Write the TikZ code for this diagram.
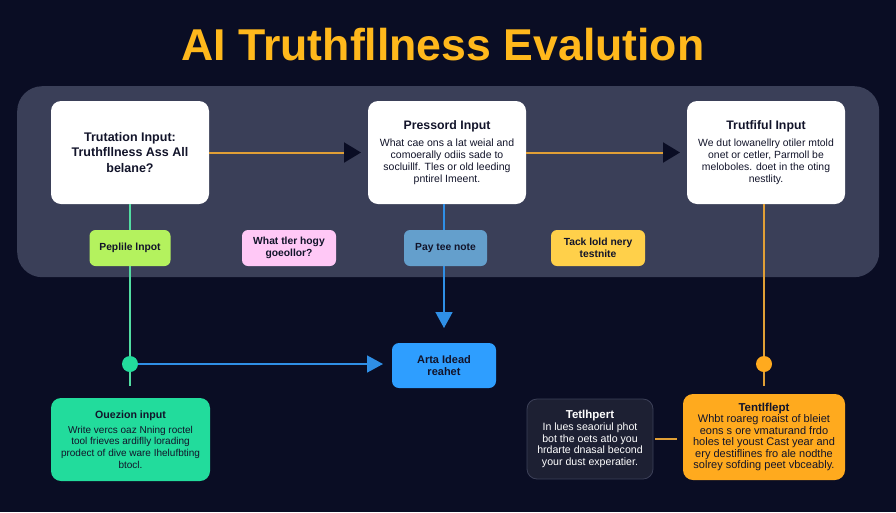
\documentclass[tikz,border=0pt]{standalone}
\usepackage{fontspec}
\setmainfont{Liberation Sans}
\usepackage{xcolor}
\usetikzlibrary{arrows.meta, positioning, calc}

\definecolor{pagebg}{HTML}{0A0D24}
\definecolor{panelbg}{HTML}{3A3F58}
\definecolor{inktext}{HTML}{12142A}
\definecolor{titleamber}{HTML}{FFB81C}
\definecolor{mintfill}{HTML}{22DC9C}
\definecolor{limefill}{HTML}{B4F25E}
\definecolor{pinkfill}{HTML}{FFC8F6}
\definecolor{steelfill}{HTML}{649FCC}
\definecolor{yellowfill}{HTML}{FFD04A}
\definecolor{skyfill}{HTML}{2E9EFF}
\definecolor{orangefill}{HTML}{FFAA1E}
\definecolor{darkfill}{HTML}{1D2033}
\definecolor{darkedge}{HTML}{3C4058}
\definecolor{mintline}{HTML}{52DDA2}
\definecolor{skyline}{HTML}{2F8FE6}
\definecolor{orangeline}{HTML}{E09F36}

\begin{document}
\begin{tikzpicture}[
  x=1pt, y=-1pt,
  % Base style for boxes
  basebox/.style={rounded corners=10pt, align=center, inner sep=0pt, outer sep=0pt, text=inktext},
  % Styles inheriting from basebox
  inputbox/.style={basebox, fill=white, minimum width=158pt, minimum height=103pt},
  chipbox/.style={basebox, rounded corners=6pt, minimum height=36pt, font=\fontsize{10.3}{12}\selectfont\bfseries},
  outbox/.style={basebox, font=\fontsize{10}{11.7}\selectfont},
  dotnode/.style={circle, inner sep=0pt, outer sep=0pt, minimum size=16pt},
  flowline/.style={line width=1.6pt},
  % Arrow with the tip in its own colour
  darktip/.style={line width=2pt, orangeline, shorten >=7pt, -{Triangle[length=17pt, width=20pt, color=pagebg]}},
  skytip/.style={flowline, skyline, -{Triangle[length=16pt, width=17pt]}}
]

  % Page and panel
  \node[fill=pagebg, minimum width=896pt, minimum height=512pt, inner sep=0pt, outer sep=0pt, anchor=north west] (page) at (0,0) {};
  \node[fill=panelbg, rounded corners=25pt, minimum width=862pt, minimum height=191pt, inner sep=0pt, anchor=north west] (panel) at (17,86) {};

  % Title
  \node[font=\fontsize{44.6}{50}\selectfont\bfseries, text=titleamber, inner sep=0pt] (title) at (443,45) {AI Truthfllness Evalution};

  % Top row
  \node[inputbox, anchor=north west, font=\fontsize{12.5}{15.7}\selectfont\bfseries] (trutation) at (51,101) {Trutation Input:\\Truthfllness Ass All\\belane?};
  \node[inputbox, right=159pt of trutation, font=\fontsize{10.5}{11.9}\selectfont] (pressord) {{\fontsize{12.3}{14}\selectfont\bfseries Pressord Input}\\[5pt]What cae ons a lat weial and\\comoerally odiis sade to\\socluillf. Tles or old leeding\\pntirel Imeent.};
  \node[inputbox, right=161pt of pressord, font=\fontsize{10.4}{11.9}\selectfont] (trutfiful) {{\fontsize{12.3}{14}\selectfont\bfseries Trutfiful Input}\\[5pt]We dut lowanellry otiler mtold\\onet or cetler, Parmoll be\\meloboles. doet in the oting\\nestlity.};

  % Lower row
  \node[basebox, fill=skyfill, minimum width=104pt, minimum height=45pt, rounded corners=7pt, font=\fontsize{11}{12.5}\selectfont\bfseries] (arta) at (444,365.5) {Arta Idead\\reahet};
  \node[outbox, fill=mintfill, minimum width=159pt, minimum height=83pt, anchor=north west] (ouezion) at (51,398) {{\bfseries\fontsize{10.6}{12}\selectfont Ouezion input}\\[3pt]Write vercs oaz Nning roctel\\tool frieves ardiflly lorading\\prodect of dive ware Ihelufbting\\btocl.};
  \node[outbox, fill=orangefill, minimum width=162pt, minimum height=86pt, anchor=north west, font=\fontsize{11}{11.4}\selectfont] (tentlflept) at (683,394) {{\bfseries\fontsize{11.5}{12}\selectfont Tentlflept}\\Whbt roareg roaist of bleiet\\eons s ore vmaturand frdo\\holes tel youst Cast year and\\ery destiflines fro ale nodthe\\solrey sofding peet vbceably.};
  \node[outbox, fill=darkfill, draw=darkedge, line width=0.8pt, text=white, minimum width=126pt, minimum height=80pt, anchor=north east, font=\fontsize{10.6}{11.7}\selectfont] (tetlhpert) at (653,399) {{\bfseries\fontsize{11.5}{12}\selectfont Tetlhpert}\\In lues seaoriul phot\\bot the oets atlo you\\hrdarte dnasal becond\\your dust experatier.};

  % Junction dots and free ends
  \node[dotnode, fill=mintfill] (greendot) at (trutation.south |- 0,364) {};
  \node[dotnode, fill=orangefill] (orangedot) at (764,364) {};
  \coordinate (greenend) at (greendot |- 0,386);
  \coordinate (orangeend) at (orangedot |- 0,386);
  \coordinate (orangetop) at (orangedot |- trutfiful.south);

  % Arrows along the top row
  \draw[darktip] (trutation.east) -- (pressord.west);
  \draw[darktip] (pressord.east) -- (trutfiful.west);

  % Vertical connectors
  \draw[flowline, mintline] (trutation.south) -- (greendot) -- (greenend);
  \draw[flowline, orangeline] (orangetop) -- (orangedot) -- (orangeend);
  \draw[skytip, shorten >=15pt] (pressord.south -| arta.north) -- (arta.north);
  \draw[skytip, shorten >=9pt] (greendot.east) -- (arta.west |- greendot);
  \draw[flowline, orangeline, shorten <=2pt, shorten >=6pt] (tetlhpert.east) -- (tentlflept.west |- tetlhpert);

  % Chips sit on top of the lines
  \node[chipbox, fill=limefill, minimum width=81pt, below=26pt of trutation] (peplile) {Peplile lnpot};
  \node[chipbox, fill=pinkfill, minimum width=94pt, anchor=west] (whattler) at (242,248) {What tler hogy\\goeollor?};
  \node[chipbox, fill=steelfill, minimum width=83pt, anchor=west] (paytee) at (404,248) {Pay tee note};
  \node[chipbox, fill=yellowfill, minimum width=94pt, anchor=west] (tacklold) at (551,248) {Tack lold nery\\testnite};

\end{tikzpicture}
\end{document}
